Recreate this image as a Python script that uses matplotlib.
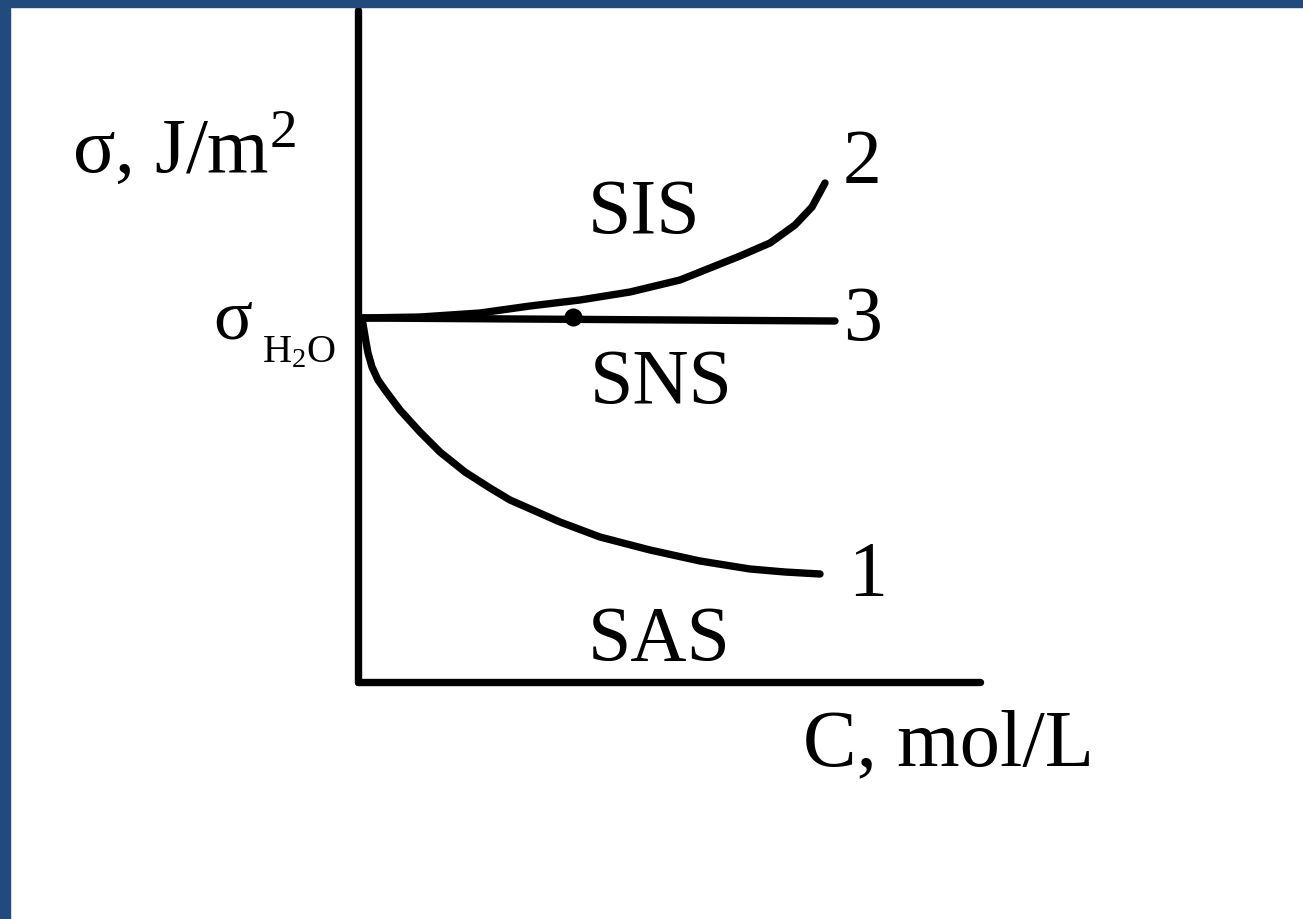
import matplotlib
matplotlib.use("Agg")
import matplotlib.pyplot as plt
from matplotlib.patches import Rectangle

plt.rcParams['font.family'] = ['Liberation Serif', 'DejaVu Serif']
plt.rcParams['mathtext.fontset'] = 'custom'
plt.rcParams['mathtext.rm'] = 'Liberation Serif'
plt.rcParams['mathtext.it'] = 'Liberation Serif'

# curve 1 (SAS) - surface tension falls with concentration
c_sas = [0.04, 0.06, 0.08, 0.10, 0.14, 0.20, 0.27, 0.42, 0.62, 0.82, 1.07, 1.32,
         1.52, 1.77, 2.02, 2.42, 2.92, 3.42, 3.92, 4.27, 4.62]
s_sas = [3.64, 3.52, 3.40, 3.29, 3.15, 3.02, 2.92, 2.72, 2.50, 2.30, 2.10, 1.94,
         1.82, 1.71, 1.60, 1.45, 1.32, 1.21, 1.13, 1.10, 1.08]

# curve 2 (SIS) - rises
c_sis = [0.04, 0.62, 1.22, 1.72, 2.22, 2.72, 3.22, 3.52, 3.82, 4.12, 4.37, 4.54, 4.67]
s_sis = [3.64, 3.65, 3.69, 3.76, 3.82, 3.90, 4.02, 4.14, 4.26, 4.39, 4.57, 4.75, 4.99]

# curve 3 (SNS) - flat
c_sns = [0.04, 4.77]
s_sns = [3.64, 3.61]

dot_c, dot_s = 2.15, 3.65

fig = plt.figure(figsize=(13.03, 9.19), dpi=100)
ax = fig.add_axes([0, 0, 1, 1])
ax.set_xlim(-3.58, 9.45)
ax.set_ylim(-2.37, 6.82)
ax.axis('off')

lw = 5.3
# axes drawn as thick lines
ax.plot([0, 0], [0, 6.72], color='black', lw=lw, solid_capstyle='round')
ax.plot([0, 6.22], [0, 0], color='black', lw=lw, solid_capstyle='round')

kw = dict(color='black', lw=lw, solid_capstyle='round', solid_joinstyle='round')
ax.plot(c_sas, s_sas, **kw)
ax.plot(c_sis, s_sis, **kw)
ax.plot(c_sns, s_sns, **kw)
ax.plot([dot_c], [dot_s], 'o', color='black', ms=12)

fs = 56
ax.text(-2.86, 5.10, r'σ, J/m$^2$', fontsize=57, ha='left', va='baseline')
ax.text(2.30, 4.49, 'SIS', fontsize=fs, ha='left', va='baseline')
ax.text(2.32, 2.79, 'SNS', fontsize=fs, ha='left', va='baseline')
ax.text(2.30, 0.22, 'SAS', fontsize=fs, ha='left', va='baseline')
ax.text(4.85, 4.99, '2', fontsize=fs, ha='left', va='baseline')
ax.text(4.85, 3.42, '3', fontsize=fs, ha='left', va='baseline')
ax.text(4.90, 0.87, '1', fontsize=fs, ha='left', va='baseline')
ax.text(4.45, -0.83, 'C, mol/L', fontsize=58, ha='left', va='baseline')
ax.text(-1.45, 3.44, 'σ', fontsize=52, ha='left', va='baseline')
ax.text(-0.96, 3.20, r'H$_2$O', fontsize=29, ha='left', va='baseline')

# slide frame
blue = '#214a7d'
fig.patches.append(Rectangle((0, 1 - 7 / 919), 1, 7 / 919, transform=fig.transFigure,
                             color=blue, zorder=10))
fig.patches.append(Rectangle((0, 0), 10 / 1303, 1, transform=fig.transFigure,
                             color=blue, zorder=10))

fig.savefig('out.png', dpi=100, facecolor='white')
